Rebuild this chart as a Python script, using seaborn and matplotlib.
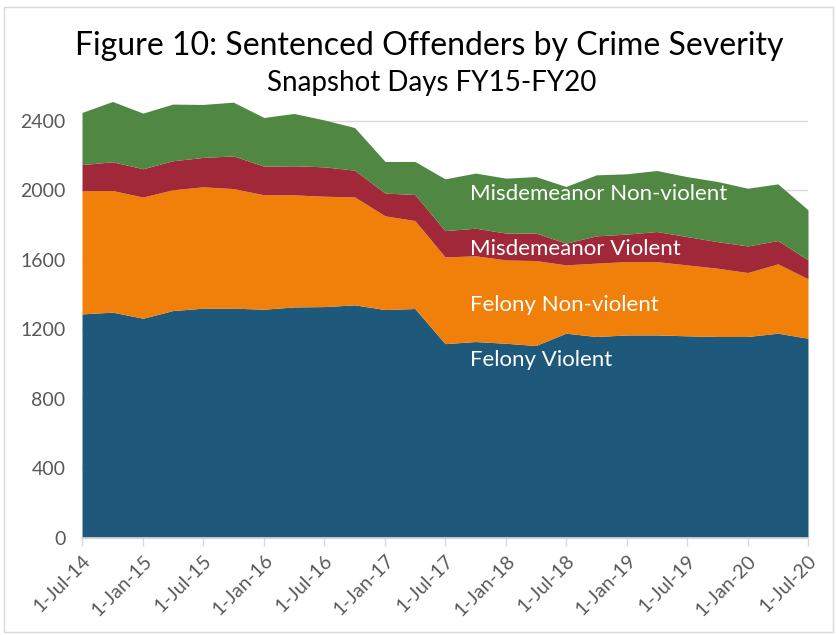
import pandas as pd
import numpy as np
import matplotlib
matplotlib.use("Agg")
import matplotlib.pyplot as plt
import matplotlib.patches as patches
import seaborn as sns

# === Data (quarterly snapshot days) ===
dates = pd.date_range("2014-07-01", "2020-07-01", freq="QS")
felony_violent = [1289, 1299, 1264, 1308, 1322, 1322, 1316, 1329, 1331, 1341, 1314, 1320, 1118,
                  1130, 1120, 1107, 1178, 1159, 1168, 1168, 1163, 1159, 1159, 1178, 1149]
felony_nonviolent = [708, 700, 697, 695, 698, 688, 658, 645, 635, 621, 539, 506, 499,
                     493, 480, 489, 393, 422, 422, 422, 408, 393, 368, 399, 342]
misd_violent = [151, 165, 163, 167, 169, 188, 165, 167, 169, 154, 131, 150, 151,
                159, 154, 158, 125, 157, 158, 173, 163, 153, 153, 134, 109]
misd_nonviolent = [300, 347, 320, 326, 305, 309, 280, 301, 270, 245, 182, 190, 298,
                   317, 316, 325, 326, 351, 347, 351, 345, 346, 332, 326, 288]
series_names = ["Felony Violent", "Felony Non-violent", "Misdemeanor Violent", "Misdemeanor Non-violent"]
tick_labels = ["1-Jul-14", "1-Jan-15", "1-Jul-15", "1-Jan-16", "1-Jul-16", "1-Jan-17", "1-Jul-17",
               "1-Jan-18", "1-Jul-18", "1-Jan-19", "1-Jul-19", "1-Jan-20", "1-Jul-20"]
y_ticks = [0, 400, 800, 1200, 1600, 2000, 2400]

df = pd.DataFrame({
    "date": dates,
    series_names[0]: felony_violent,
    series_names[1]: felony_nonviolent,
    series_names[2]: misd_violent,
    series_names[3]: misd_nonviolent,
})

# === Style ===
sns.set_theme(style="white")
plt.rcParams["font.family"] = ["Lato", "DejaVu Sans"]
palette = ["#1E587A", "#F08009", "#A02838", "#4F8743"]

fig = plt.figure(figsize=(8.36, 6.35), dpi=100)
ax = fig.add_axes([0.0981, 0.1528, 0.8684, 0.7008])

ax.stackplot(df["date"], *[df[name] for name in series_names], colors=palette, linewidth=0)

ax.set_xlim(dates[0], dates[-1])
ax.set_ylim(0, 2560)
ax.set_yticks(y_ticks)
ax.set_yticklabels([str(v) for v in y_ticks], fontsize=14, color="#595959")
ax.set_xticks(dates[::2])
ax.set_xticklabels(tick_labels, rotation=45, ha="right", rotation_mode="anchor",
                   fontsize=14, color="#595959")
ax.tick_params(axis="x", length=6, color="#D9D9D9", width=1, pad=4, bottom=True)
ax.tick_params(axis="y", length=0, pad=12)
ax.yaxis.grid(True, color="#D9D9D9", linewidth=1)
ax.set_axisbelow(True)
for side in ["top", "right", "left"]:
    ax.spines[side].set_visible(False)
ax.spines["bottom"].set_color("#D9D9D9")
ax.set_xlabel("")
ax.set_ylabel("")

# === Series labels inside the areas ===
label_x = dates[12] + pd.Timedelta(days=74)
for name, yv in zip(series_names[::-1], [1980, 1660, 1340, 1025]):
    ax.text(label_x, yv, name, color="white", fontsize=16, va="center", ha="left")

# === Titles ===
fig.text(0.514, 0.928, "Figure 10: Sentenced Offenders by Crime Severity", ha="center", va="center",
         fontsize=23, color="black")
fig.text(0.516, 0.870, "Snapshot Days FY15-FY20", ha="center", va="center", fontsize=20, color="black")

# chart area border
fig.patches.append(patches.Rectangle((0.005, 0.004), 0.992, 0.985, transform=fig.transFigure,
                                     fill=False, edgecolor="#D9D9D9", linewidth=1))

fig.savefig("out.png", dpi=100)
